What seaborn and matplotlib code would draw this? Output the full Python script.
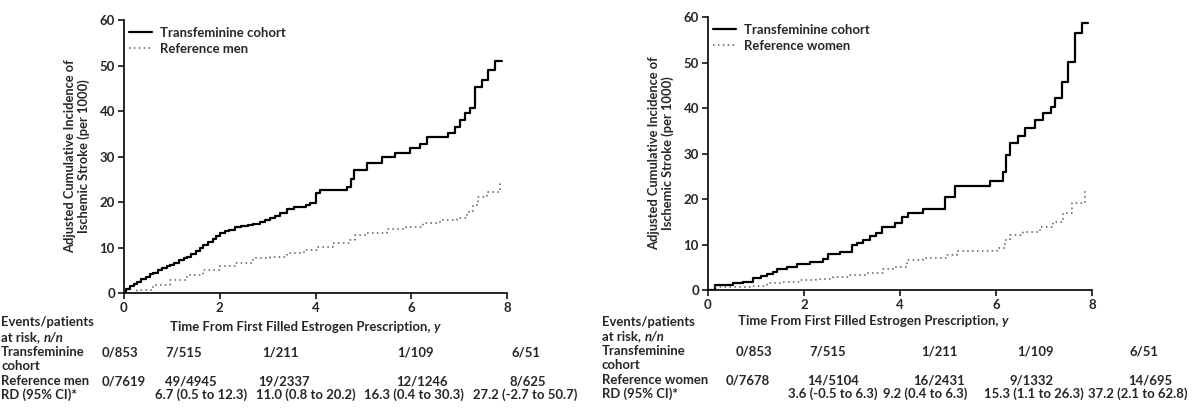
import matplotlib
matplotlib.use("Agg")
import matplotlib.pyplot as plt
import seaborn as sns
import pandas as pd

# ---------------- data ----------------
left_tf_t = [0, 0.05, 0.12, 0.2, 0.27, 0.35, 0.45, 0.55, 0.61, 0.7, 0.8, 0.9, 0.96, 1.05, 1.15,
             1.25, 1.31, 1.4, 1.5, 1.58, 1.65, 1.75, 1.85, 1.92, 2.0, 2.1, 2.2, 2.32, 2.45, 2.6,
             2.7, 2.85, 2.95, 3.05, 3.15, 3.25, 3.4, 3.55, 3.67, 3.8, 3.88, 4.0, 4.1, 4.65, 4.75,
             4.8, 5.07, 5.39, 5.66, 5.97, 6.18, 6.32, 6.76, 6.91, 7.01, 7.12, 7.22, 7.33, 7.47,
             7.6, 7.75, 7.9]
left_tf_v = [0, 0.8, 1.5, 2.0, 2.4, 3.0, 3.6, 4.1, 4.4, 5.0, 5.5, 5.9, 6.2, 6.7, 7.2,
             7.6, 7.9, 8.5, 9.3, 10.0, 10.5, 11.2, 11.9, 12.6, 13.2, 13.6, 13.8, 14.5, 14.7, 15.0,
             15.2, 15.6, 16.0, 16.5, 17.0, 17.6, 18.5, 18.8, 18.9, 19.3, 19.8, 22.0, 22.6, 23.3, 25.0,
             27.0, 28.6, 29.9, 30.7, 31.8, 32.7, 34.3, 35.2, 36.5, 38.0, 39.5, 40.7, 45.3, 46.8,
             49.0, 51.0, 51.0]
left_ref_t = [0, 0.27, 0.61, 0.96, 1.31, 1.65, 2.0, 2.32, 2.7, 3.05, 3.4, 3.76, 4.05, 4.37,
              4.72, 4.82, 5.07, 5.49, 5.9, 6.24, 6.6, 6.95, 7.16, 7.29, 7.39, 7.58, 7.85]
left_ref_v = [0, 0.7, 1.8, 2.9, 4.0, 5.1, 5.9, 6.6, 7.7, 8.0, 8.8, 9.5, 10.1, 10.9,
              11.6, 12.7, 13.2, 14.0, 14.4, 15.4, 16.0, 16.5, 17.9, 19.3, 21.1, 22.2, 24.2]

right_tf_t = [0, 0.15, 0.52, 0.73, 0.94, 1.1, 1.22, 1.35, 1.43, 1.64, 1.85, 2.12, 2.4, 2.5, 2.75,
              3.0, 3.1, 3.23, 3.38, 3.5, 3.63, 3.9, 4.04, 4.17, 4.48, 4.94, 5.15, 5.88, 6.15, 6.2,
              6.29, 6.46, 6.6, 6.81, 6.98, 7.14, 7.23, 7.38, 7.5, 7.65, 7.79, 7.92]
right_tf_v = [0, 1.1, 1.5, 1.8, 2.6, 3.0, 3.5, 4.0, 4.6, 5.0, 5.7, 6.2, 6.8, 7.9, 8.4,
              9.9, 10.4, 11.0, 11.9, 12.5, 13.8, 14.7, 16.0, 16.9, 17.8, 20.4, 22.9, 24.0, 26.0, 29.7,
              32.3, 33.8, 35.6, 37.4, 38.9, 40.2, 42.2, 45.7, 50.1, 56.5, 58.7, 58.7]
right_ref_t = [0, 0.15, 0.52, 0.88, 1.22, 1.57, 1.92, 2.26, 2.6, 2.95, 3.3, 3.65, 3.85, 4.15,
               4.48, 4.98, 5.19, 5.6, 6.02, 6.19, 6.29, 6.56, 6.92, 7.19, 7.4, 7.58, 7.85]
right_ref_v = [0, 0.6, 0.7, 0.9, 1.5, 1.8, 2.2, 2.4, 2.8, 3.2, 3.7, 4.6, 5.0, 6.5,
               7.0, 7.7, 8.6, 8.6, 9.2, 11.0, 12.1, 12.7, 13.8, 14.9, 16.9, 19.1, 22.0]

x_ticks = [0, 2, 4, 6, 8]
y_ticks = [0, 10, 20, 30, 40, 50, 60]

tf_label = "Transfeminine cohort"
left_ref_label = "Reference men"
right_ref_label = "Reference women"
y_label = "Adjusted Cumulative Incidence of\nIschemic Stroke (per 1000)"

left_tf_row = ["0/853", "7/515", "1/211", "1/109", "6/51"]
left_ref_row = ["0/7619", "49/4945", "19/2337", "12/1246", "8/625"]
left_rd_row = ["6.7 (0.5 to 12.3)", "11.0 (0.8 to 20.2)", "16.3 (0.4 to 30.3)", "27.2 (-2.7 to 50.7)"]
right_tf_row = ["0/853", "7/515", "1/211", "1/109", "6/51"]
right_ref_row = ["0/7678", "14/5104", "16/2431", "9/1332", "14/695"]
right_rd_row = ["3.6 (-0.5 to 6.3)", "9.2 (0.4 to 6.3)", "15.3 (1.1 to 26.3)", "37.2 (2.1 to 62.8)"]

# ---------------- style ----------------
sns.set_theme(style="ticks")
FONT = ["Lato", "DejaVu Sans"]
plt.rcParams["font.family"] = FONT
plt.rcParams["font.weight"] = "bold"

W, H = 1192, 419
fig = plt.figure(figsize=(W / 100, H / 100), dpi=100)
fig.patch.set_facecolor("white")
renderer = fig.canvas.get_renderer()


def px(x, y):
    return x / W, 1 - y / H


def fit_size(s, target, style="normal"):
    t = fig.text(0, 0, s, fontsize=10, fontweight="bold", style=style)
    w = t.get_window_extent(renderer).width
    t.remove()
    return 10 * target / w


TS = fit_size(" ".join(right_rd_row), 380)
YS = fit_size(y_label.split("\n")[0], 194)
LS = fit_size(tf_label, 126)
XS = TS


def make_panel(rect, tf_t, tf_v, ref_t, ref_v, ref_label):
    ax = fig.add_axes(rect)
    df_tf = pd.DataFrame({"t": tf_t, "v": tf_v})
    df_ref = pd.DataFrame({"t": ref_t, "v": ref_v})
    sns.lineplot(data=df_tf, x="t", y="v", ax=ax, color="black", lw=1.6,
                 drawstyle="steps-post", estimator=None, label=tf_label)
    sns.lineplot(data=df_ref, x="t", y="v", ax=ax, color="#5a5a5a", lw=1.1,
                 drawstyle="steps-post", estimator=None, label=ref_label,
                 linestyle=(0, (1, 2.2)))
    ax.set_xlim(0, 8)
    ax.set_ylim(0, 60)
    ax.set_xticks(x_ticks)
    ax.set_yticks(y_ticks)
    ax.set_xlabel("")
    ax.set_ylabel(y_label, fontsize=YS, fontweight="bold", labelpad=7, linespacing=1.1)
    ax.tick_params(axis="both", direction="out", length=4, width=1.1, labelsize=9.5,
                   color="black", pad=2.5)
    for lab in ax.get_xticklabels() + ax.get_yticklabels():
        lab.set_fontweight("bold")
    for s in ["top", "right"]:
        ax.spines[s].set_visible(False)
    for s in ["left", "bottom"]:
        ax.spines[s].set_linewidth(1.2)
        ax.spines[s].set_color("black")
    leg = ax.legend(loc="upper left", bbox_to_anchor=(0.0, 0.995), frameon=False,
                    fontsize=LS, handlelength=1.7, handletextpad=0.65, labelspacing=0.3,
                    borderaxespad=0.0, borderpad=0.4)
    for t in leg.get_texts():
        t.set_fontweight("bold")
    ax.set_facecolor("white")
    return ax


axL = make_panel([124 / W, 1 - 293 / H, 383 / W, 273 / H],
                 left_tf_t, left_tf_v, left_ref_t, left_ref_v, left_ref_label)
axR = make_panel([708 / W, 1 - 290 / H, 384 / W, 273 / H],
                 right_tf_t, right_tf_v, right_ref_t, right_ref_v, right_ref_label)


def txt(x, y, s, ha="left", size=None, style="normal"):
    return fig.text(*px(x, y), s, ha=ha, va="center", fontsize=size or TS,
                    fontweight="bold", style=style)


def segs(x, y, parts, ha="left", size=None):
    """Draw consecutive text segments with their own styles."""
    widths = []
    objs = []
    for s, st in parts:
        t = txt(0, y, s, size=size, style=st)
        widths.append(t.get_window_extent(renderer).width)
        objs.append(t)
    total = sum(widths)
    cur = x - total / 2 if ha == "center" else x
    for t, w in zip(objs, widths):
        t.set_x(cur / W)
        cur += w


XLAB = [("Time From First Filled Estrogen Prescription, ", "normal"), ("y", "italic")]
RISK = [("at risk, ", "normal"), ("n/n", "italic")]

# ---- left table ----
txt(1, 322, "Events/patients")
segs(1, 337, RISK)
segs(305, 327, XLAB, ha="center", size=XS)
txt(1, 352, "Transfeminine")
txt(1, 366, "cohort")
txt(1, 381, left_ref_label)
txt(1, 395, "RD (95% CI)*")
for x, s in zip([102, 165, 262, 397, 512], left_tf_row):
    txt(x, 352, s)
for x, s in zip([102, 165, 258, 396, 510], left_ref_row):
    txt(x, 381, s)
for x, s in zip([155, 256, 364, 473], left_rd_row):
    txt(x, 395, s)

# ---- right table ----
txt(602, 322, "Events/patients")
segs(602, 336, RISK)
segs(873, 321, XLAB, ha="center", size=XS)
txt(602, 351, "Transfeminine")
txt(602, 365, "cohort")
txt(602, 380, right_ref_label)
txt(602, 394, "RD (95% CI)*")
for x, s in zip([736, 809, 921, 1017, 1130], right_tf_row):
    txt(x, 351, s)
for x, s in zip([726, 807, 913, 1009, 1128], right_ref_row):
    txt(x, 380, s)
for x, s in zip([788, 883, 984, 1088], right_rd_row):
    txt(x, 394, s)

fig.savefig("out.png", dpi=100, facecolor="white")
